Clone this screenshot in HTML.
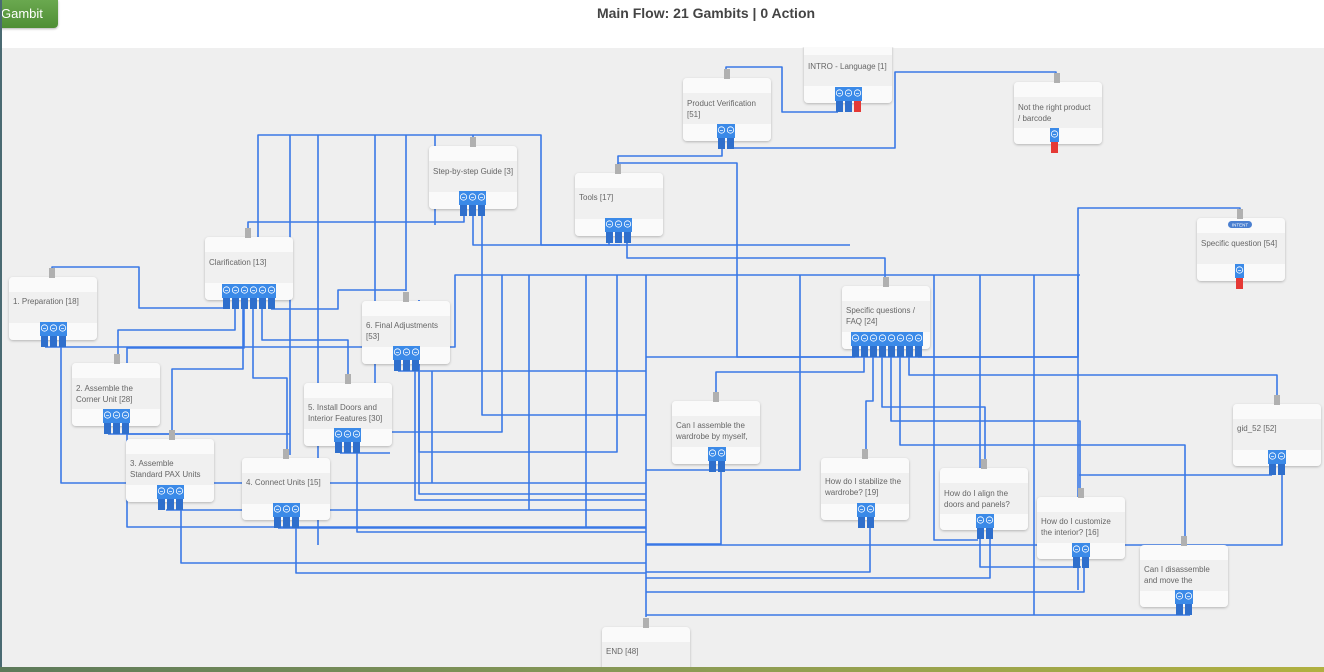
<!DOCTYPE html>
<html><head><meta charset="utf-8"><style>
html,body{margin:0;padding:0;width:1324px;height:672px;overflow:hidden;background:#fff;font-family:"Liberation Sans",sans-serif}
#hdr{position:absolute;left:0;top:0;width:1324px;height:48px;background:#fff}
#title{position:absolute;left:0;width:1412px;top:5px;text-align:center;font-size:14px;font-weight:bold;color:#444}
#btn{position:absolute;left:0;top:0;width:57px;height:28px;background:linear-gradient(#6aa84f,#4f8f35);border-radius:0 0 4px 0;color:#fff;font-size:13px;line-height:27px;padding-left:1px;box-shadow:0 1px 2px rgba(0,0,0,.3)}
#canvas{position:absolute;left:0;top:48px;width:1324px;height:620px;background:#efefef}
#lb{position:absolute;left:0;top:0;width:2px;height:672px;background:#4a6a72}
#bb{position:absolute;left:0;top:667px;width:1324px;height:5px;background:linear-gradient(90deg,#5d7a5a,#8a9a55,#b0b040)}
svg{position:absolute;left:0;top:0}
</style></head><body>
<div id="canvas"></div>
<div id="hdr"></div>
<svg width="1324" height="672" viewBox="0 0 1324 672">
<defs><filter id="sh" x="-10%" y="-10%" width="120%" height="130%"><feDropShadow dx="0" dy="1" stdDeviation="1.2" flood-color="#000" flood-opacity="0.25"/></filter></defs>
<g fill="none" stroke="#3a78e6" stroke-width="1.6" stroke-linejoin="round">
<path d="M258 300 V135 H541 V245 H620"/>
<path d="M290 135 V455"/>
<path d="M318 135 V545"/>
<path d="M375 135 V440"/>
<path d="M406 135 V291"/>
<path d="M435 135 V225"/>
<path d="M473 135 V146"/>
<path d="M464 216 V222 H248 V237"/>
<path d="M473 216 V245 H850"/>
<path d="M482 216 V415 H646"/>
<path d="M226 309 V308 H139 V267 H52 V277"/>
<path d="M235 309 V330 H118 V363"/>
<path d="M244 309 V348 H127 V527 H646"/>
<path d="M253 309 V378 H287 V458"/>
<path d="M262 309 V340 H348 V383"/>
<path d="M271 309 H338 V290 H406"/>
<path d="M172 439 V369 H243 V309"/>
<path d="M45 347 H455 V275 H1080"/>
<path d="M61 347 V483 H646"/>
<path d="M108 434 H290"/>
<path d="M127 434 H170"/>
<path d="M166 510 H646"/>
<path d="M181 510 V563 H646"/>
<path d="M278 528 H646"/>
<path d="M296 528 V573 H646"/>
<path d="M340 453 H390"/>
<path d="M357 453 V532 H646"/>
<path d="M419 300 V494 H646"/>
<path d="M502 275 V432 H390"/>
<path d="M529 275 V510"/>
<path d="M586 275 V528"/>
<path d="M617 275 V452 H419 V300"/>
<path d="M646 275 V617"/>
<path d="M398 371 H646"/>
<path d="M415 371 V500 H646"/>
<path d="M432 371 V483"/>
<path d="M726 78 V67 H782 V112 H838"/>
<path d="M722 149 V156 H618 V173"/>
<path d="M732 149 V148 H895 V72 H1056 V82"/>
<path d="M627 243 V258 H885 V286"/>
<path d="M609 243 V245"/>
<path d="M618 243 V163 H737 V357 H1078 V208 H1240 V218"/>
<path d="M800 275 V470 H646"/>
<path d="M980 275 V470"/>
<path d="M1078 275 V590"/>
<path d="M855 357 H646"/>
<path d="M864 357 V372 H716 V401"/>
<path d="M873 357 V401 H866 V458"/>
<path d="M882 357 V407 H985 V468"/>
<path d="M891 357 V421 H1080 V497"/>
<path d="M900 357 V445 H1185 V545"/>
<path d="M909 357 V375 H1277 V404"/>
<path d="M918 357 H1078"/>
<path d="M934 275 V540 H978"/>
<path d="M721 472 V544 H646"/>
<path d="M646 545 H1282 V475"/>
<path d="M870 528 V572 H646"/>
<path d="M980 538 V567 H1081"/>
<path d="M990 538 V578 H646"/>
<path d="M1084 567 V592 H646"/>
<path d="M1190 615 H646"/>
<path d="M1034 275 V615"/>
<path d="M1272 475 H1079"/>
</g>
<g id="nodes" font-size="8" fill="#666">
<g filter="url(#sh)">
<rect x="9" y="277" width="88" height="63" rx="4" fill="#fafafa"/>
<rect x="205" y="237" width="88" height="63" rx="4" fill="#fafafa"/>
<rect x="429" y="146" width="88" height="63" rx="4" fill="#fafafa"/>
<rect x="683" y="78" width="88" height="63" rx="4" fill="#fafafa"/>
<rect x="804" y="40" width="88" height="63" rx="4" fill="#fafafa"/>
<rect x="1014" y="82" width="88" height="62" rx="4" fill="#fafafa"/>
<rect x="575" y="173" width="88" height="63" rx="4" fill="#fafafa"/>
<rect x="1197" y="218" width="88" height="63" rx="4" fill="#fafafa"/>
<rect x="362" y="301" width="88" height="63" rx="4" fill="#fafafa"/>
<rect x="842" y="286" width="88" height="63" rx="4" fill="#fafafa"/>
<rect x="72" y="363" width="88" height="63" rx="4" fill="#fafafa"/>
<rect x="304" y="383" width="88" height="63" rx="4" fill="#fafafa"/>
<rect x="672" y="401" width="88" height="63" rx="4" fill="#fafafa"/>
<rect x="1233" y="404" width="88" height="62" rx="4" fill="#fafafa"/>
<rect x="126" y="439" width="88" height="63" rx="4" fill="#fafafa"/>
<rect x="242" y="458" width="88" height="62" rx="4" fill="#fafafa"/>
<rect x="821" y="458" width="88" height="62" rx="4" fill="#fafafa"/>
<rect x="940" y="468" width="88" height="62" rx="4" fill="#fafafa"/>
<rect x="1037" y="497" width="88" height="62" rx="4" fill="#fafafa"/>
<rect x="1140" y="545" width="88" height="62" rx="4" fill="#fafafa"/>
<rect x="602" y="627" width="88" height="50" rx="4" fill="#fafafa"/>
</g>
<g fill="#f0f0f0">
<rect x="9" y="292" width="88" height="31"/>
<rect x="205" y="252" width="88" height="31"/>
<rect x="429" y="161" width="88" height="31"/>
<rect x="683" y="93" width="88" height="31"/>
<rect x="804" y="55" width="88" height="31"/>
<rect x="1014" y="97" width="88" height="31"/>
<rect x="575" y="188" width="88" height="31"/>
<rect x="1197" y="233" width="88" height="31"/>
<rect x="362" y="316" width="88" height="31"/>
<rect x="842" y="301" width="88" height="31"/>
<rect x="72" y="378" width="88" height="31"/>
<rect x="304" y="398" width="88" height="31"/>
<rect x="672" y="416" width="88" height="31"/>
<rect x="1233" y="419" width="88" height="31"/>
<rect x="126" y="454" width="88" height="31"/>
<rect x="242" y="473" width="88" height="31"/>
<rect x="821" y="473" width="88" height="31"/>
<rect x="940" y="483" width="88" height="31"/>
<rect x="1037" y="512" width="88" height="31"/>
<rect x="1140" y="560" width="88" height="31"/>
<rect x="602" y="642" width="88" height="25"/>
</g>
<rect x="0" y="0" width="1324" height="47" fill="#fff"/>
<g fill="#b0b0b0">
<rect x="49" y="268" width="6" height="10"/><rect x="245" y="228" width="6" height="10"/>
<rect x="470" y="137" width="6" height="10"/><rect x="724" y="69" width="6" height="10"/>
<rect x="1054" y="73" width="6" height="10"/>
<rect x="615" y="164" width="6" height="10"/><rect x="1237" y="209" width="6" height="10"/>
<rect x="403" y="292" width="6" height="10"/><rect x="883" y="277" width="6" height="10"/>
<rect x="114" y="354" width="6" height="10"/><rect x="345" y="374" width="6" height="10"/>
<rect x="713" y="392" width="6" height="10"/><rect x="1274" y="395" width="6" height="10"/>
<rect x="169" y="430" width="6" height="10"/><rect x="283" y="449" width="6" height="10"/>
<rect x="862" y="449" width="6" height="10"/><rect x="981" y="459" width="6" height="10"/>
<rect x="1078" y="488" width="6" height="10"/><rect x="1181" y="536" width="6" height="10"/>
<rect x="643" y="618" width="6" height="10"/>
</g>
<g>
<text x="13" y="304">1. Preparation [18]</text>
<text x="209" y="265">Clarification [13]</text>
<text x="433" y="174">Step-by-step Guide [3]</text>
<text x="687" y="106">Product Verification</text><text x="687" y="117">[51]</text>
<text x="808" y="69">INTRO - Language [1]</text>
<text x="1018" y="110">Not the right product</text><text x="1018" y="121">/ barcode</text>
<text x="579" y="200">Tools [17]</text>
<text x="1201" y="246">Specific question [54]</text>
<text x="366" y="328">6. Final Adjustments</text><text x="366" y="339">[53]</text>
<text x="846" y="313">Specific questions /</text><text x="846" y="324">FAQ [24]</text>
<text x="76" y="391">2. Assemble the</text><text x="76" y="402">Corner Unit [28]</text>
<text x="308" y="410">5. Install Doors and</text><text x="308" y="421">Interior Features [30]</text>
<text x="676" y="428">Can I assemble the</text><text x="676" y="439">wardrobe by myself,</text>
<text x="1237" y="431">gid_52 [52]</text>
<text x="130" y="466">3. Assemble</text><text x="130" y="477">Standard PAX Units</text>
<text x="246" y="485">4. Connect Units [15]</text>
<text x="825" y="484">How do I stabilize the</text><text x="825" y="495">wardrobe? [19]</text>
<text x="944" y="496">How do I align the</text><text x="944" y="507">doors and panels?</text>
<text x="1041" y="524">How do I customize</text><text x="1041" y="535">the interior? [16]</text>
<text x="1144" y="572">Can I disassemble</text><text x="1144" y="583">and move the</text>
<text x="606" y="654">END [48]</text>
</g>
<rect x="1228" y="221" width="24" height="7" rx="3.5" fill="#4a7fd0"/>
<text x="1240" y="226.5" font-size="4.5" fill="#fff" text-anchor="middle">INTENT</text>
</g>
<g id="ports"></g>
</svg>
<div id="title">Main Flow: 21 Gambits | 0 Action</div>
<div id="btn">Gambit</div>
<script>
var P=[[40,322,3,0],[222,284,6,0],[459,191,3,0],[717,124,2,0],[835,87,3,1],[1050,128,1,1],[605,218,3,0],[1235,264,1,1],[393,346,3,0],[851,332,8,0],[103,409,3,0],[334,428,3,0],[708,447,2,0],[1268,450,2,0],[157,485,3,0],[273,503,3,0],[857,503,2,0],[976,514,2,0],[1072,543,2,0],[1175,590,2,0]];
var s='';P.forEach(function(p){var x=p[0],y=p[1],n=p[2];
s+='<rect x="'+x+'" y="'+y+'" width="'+(n*9)+'" height="14" fill="#3b8ae8"/>';
for(var i=0;i<n;i++){var cx=x+4.5+i*9;s+='<circle cx="'+cx+'" cy="'+(y+6)+'" r="3.2" fill="none" stroke="#fff" stroke-width="0.8"/><line x1="'+(cx-1.5)+'" y1="'+(y+6.5)+'" x2="'+(cx+1.5)+'" y2="'+(y+6.5)+'" stroke="#fff" stroke-width="0.7"/>';
var red=(p[3]&&i==n-1);s+='<rect x="'+(x+1+i*9)+'" y="'+(y+14)+'" width="7" height="11" fill="'+(red?'#e53935':'#2f6fcc')+'"/>';}
});document.getElementById('ports').innerHTML=s;
</script>
<div id="lb"></div><div id="bb"></div>
</body></html>
